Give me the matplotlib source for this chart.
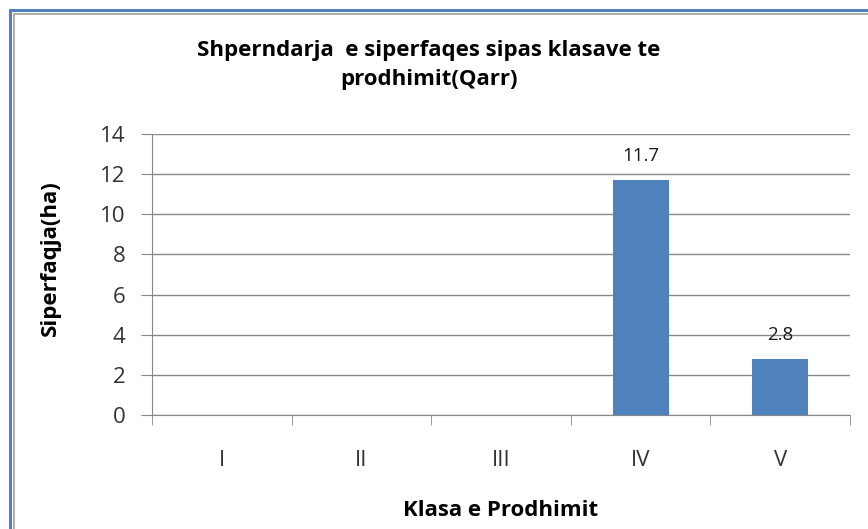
import matplotlib.pyplot as plt
from matplotlib.patches import Rectangle

# data
klasat = ['I', 'II', 'III', 'IV', 'V']
siperfaqja = [0, 0, 0, 11.7, 2.8]
etiketat = {3: '11.7', 4: '2.8'}

plt.rcParams['font.family'] = ['Open Sans', 'DejaVu Sans']

W, H = 868, 529
fig = plt.figure(figsize=(W / 100, H / 100), dpi=100)

# chart border (excel style, cropped at right/bottom)
fig.patches.append(Rectangle((9.5 / W, -0.1), 1.2, 1 - 9.5 / H + 0.1, transform=fig.transFigure,
                             fill=False, edgecolor='#4f81bd', lw=2.2))
fig.patches.append(Rectangle((14 / W, -0.1), 1.2, 1 - 13.5 / H + 0.1, transform=fig.transFigure,
                             fill=False, edgecolor='#a0a0a0', lw=1.2))

left, right, top, bottom = 152, 850, 134, 415
ax = fig.add_axes([left / W, 1 - bottom / H, (right - left) / W, (bottom - top) / H])

x = list(range(len(klasat)))
ax.bar(x, siperfaqja, width=0.4, color='#4f81bd', zorder=3)
for i, txt in etiketat.items():
    ax.text(x[i], siperfaqja[i] + 0.75, txt, ha='center', va='bottom', fontsize=13.5, color='#1a1a1a')

ax.set_xlim(-0.5, len(klasat) - 0.5)
ax.set_ylim(0, 14)
ax.set_yticks(range(0, 15, 2))
ax.set_xticks(x)
ax.set_xticklabels(klasat)
ax.set_xticks([i - 0.5 for i in range(len(klasat) + 1)], minor=True)
ax.tick_params(axis='x', which='major', length=0, pad=25, labelsize=16, labelcolor='#333333')
ax.tick_params(axis='x', which='minor', length=7, color='#888888', direction='out')
ax.tick_params(axis='y', length=8, color='#888888', labelsize=16, labelcolor='#333333', pad=11)

ax.grid(axis='y', color='#888888', lw=1, zorder=0)
for s in ['top', 'right']:
    ax.spines[s].set_visible(False)
ax.spines['left'].set_color('#888888')
ax.spines['bottom'].set_color('#888888')

ax.set_ylabel('Siperfaqja(ha)', fontsize=16, fontweight='bold', va='center')
ax.yaxis.set_label_coords((50 - left) / (right - left), (bottom - 258) / (bottom - top))
ax.set_xlabel('Klasa e Prodhimit', fontsize=16, fontweight='bold', va='center')
ax.xaxis.set_label_coords(0.5, (bottom - 510) / (bottom - top))

fig.text(429 / W, 1 - 65 / H, 'Shperndarja  e siperfaqes sipas klasave te\nprodhimit(Qarr)',
         ha='center', va='center', fontsize=16, fontweight='bold', linespacing=1.55)

fig.savefig('out.png', dpi=100, facecolor='white')
